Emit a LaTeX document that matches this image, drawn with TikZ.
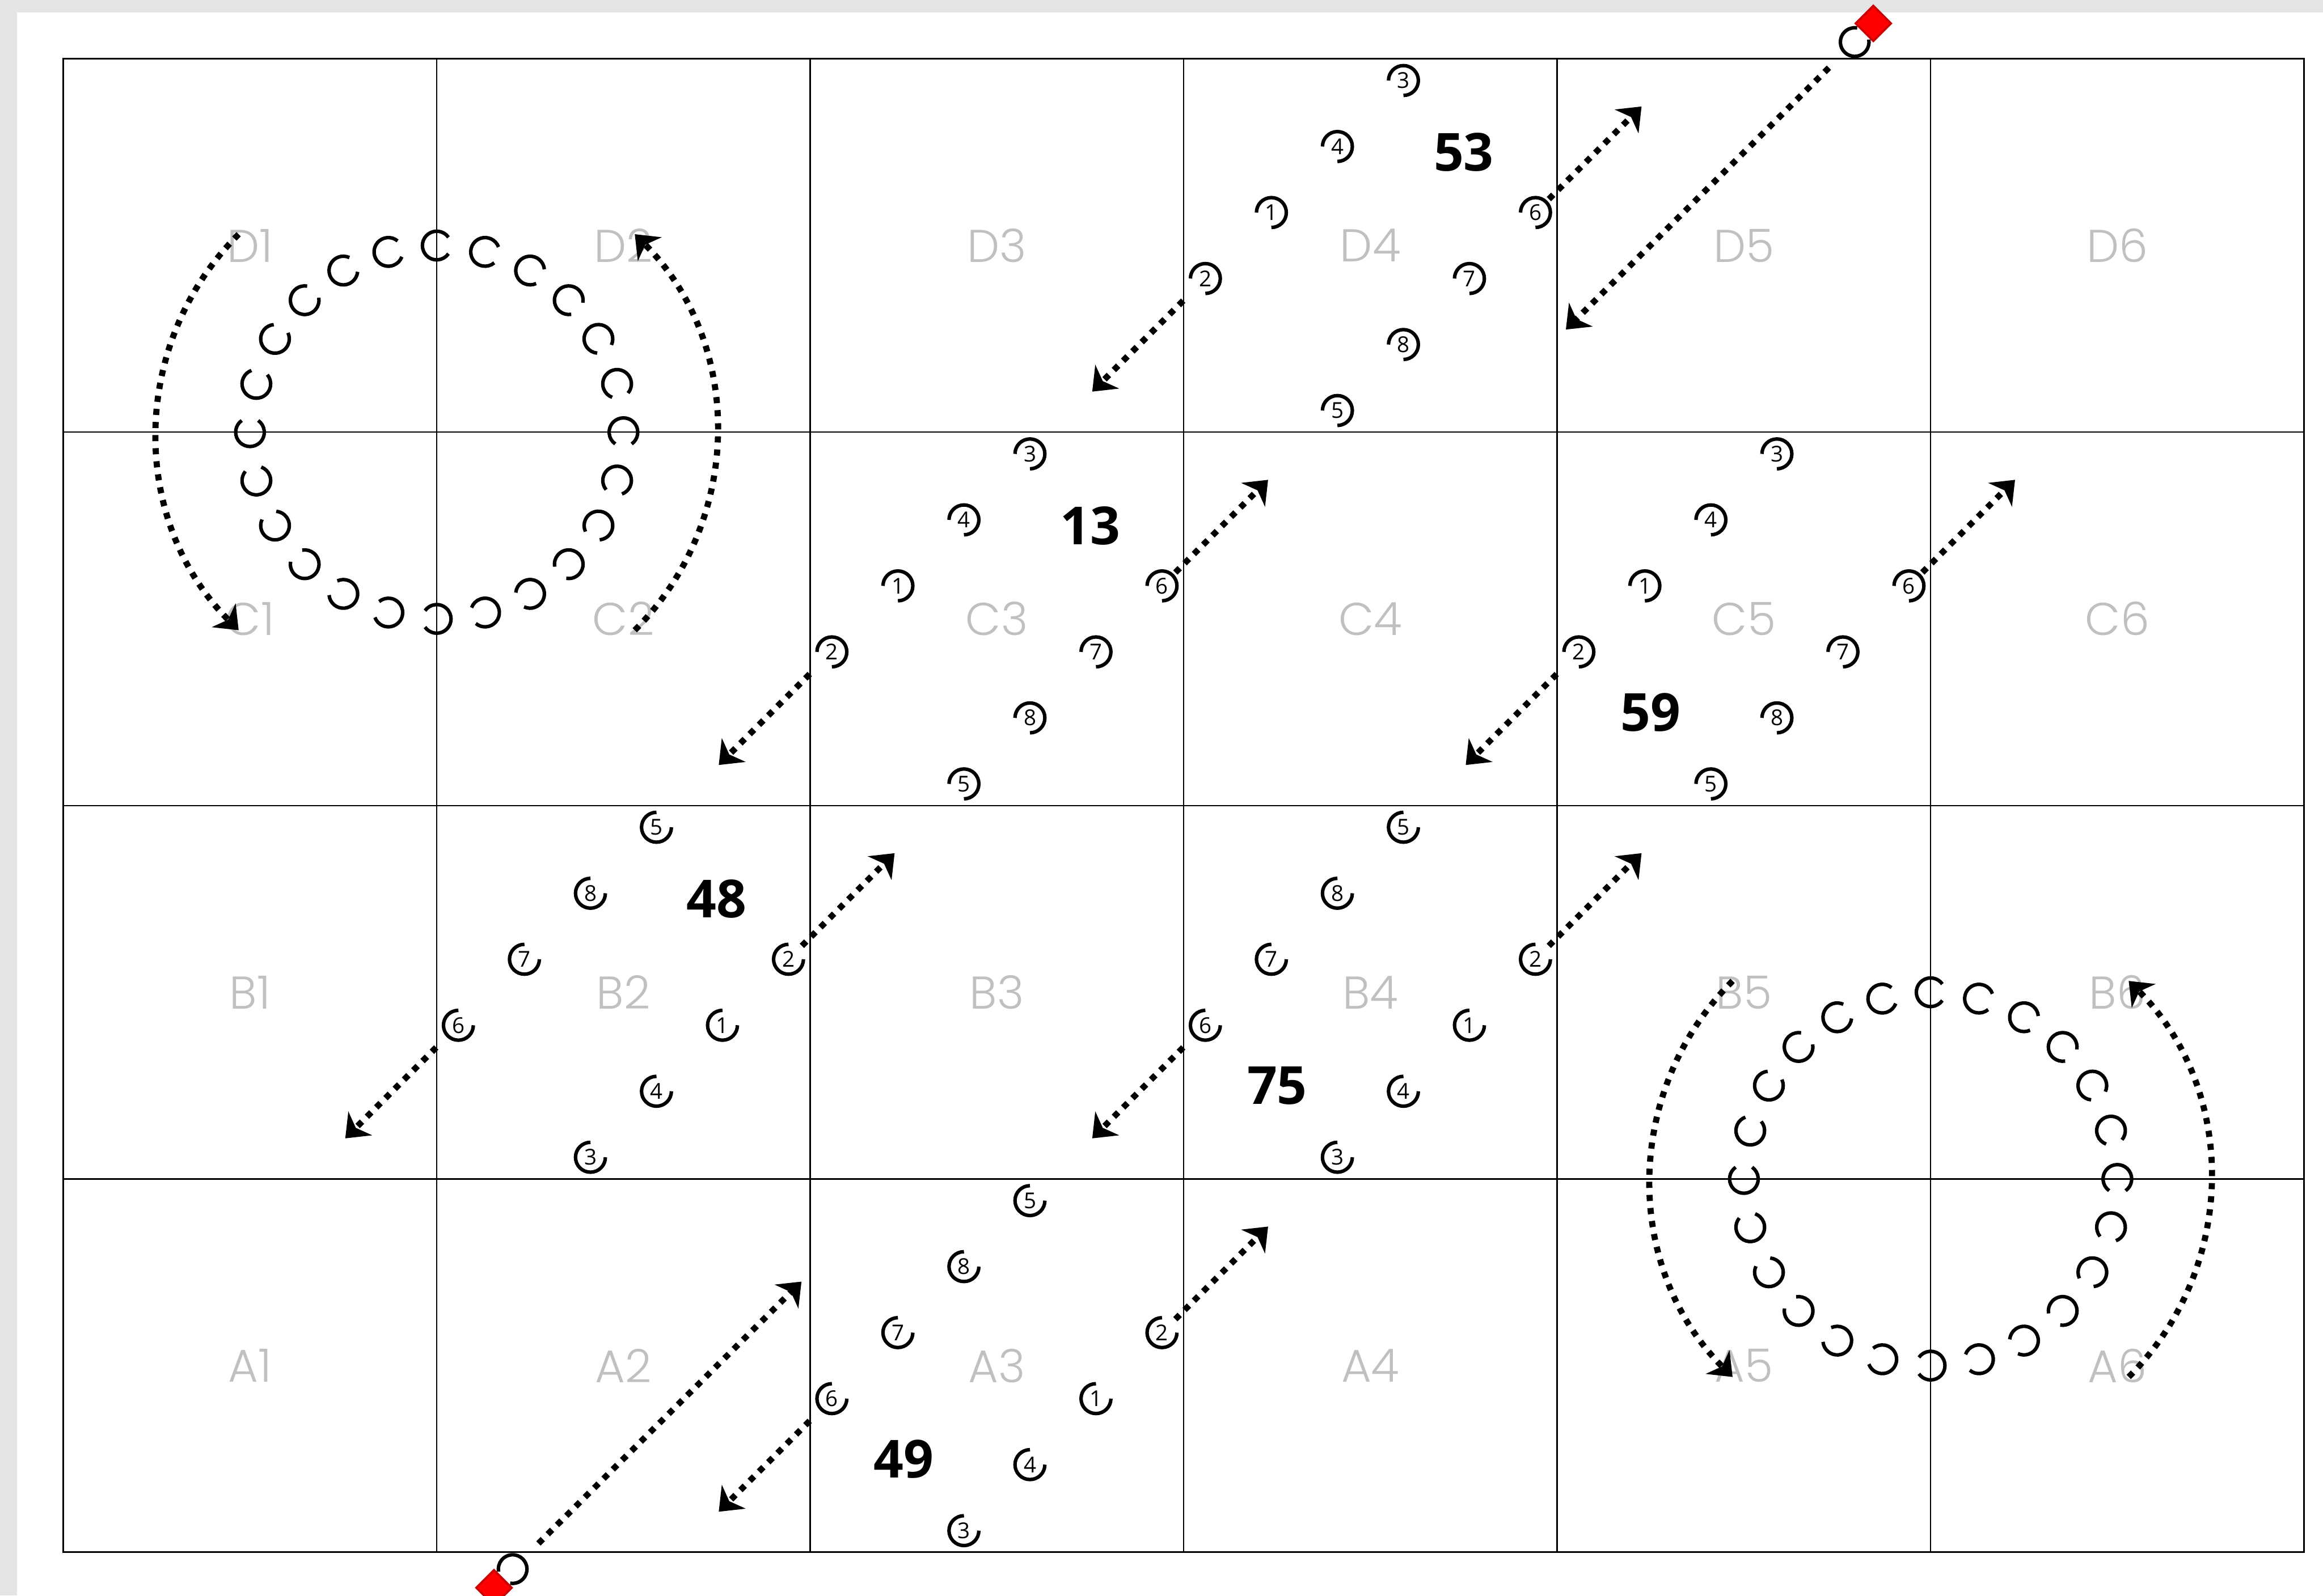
\documentclass[tikz,border=0pt]{standalone}
\usepackage{fontspec}
\setmainfont{Open Sans}
\newfontfamily\cellfont{Poppins Light}
\usetikzlibrary{arrows.meta}

\definecolor{cellgray}{RGB}{192,192,192}
\definecolor{pagegray}{RGB}{229,229,229}
\definecolor{ballred}{RGB}{255,0,0}
\definecolor{balledge}{RGB}{204,0,0}

% player: name, position, number, direction of the opening
\newcommand\plr[4]{%
  \node[plr] (#1) at (#2) {#3};
  \draw[glyph] (#1.center) ++(#4+45:0.12) arc[start angle=#4+45, delta angle=270, radius=0.12];}

\begin{document}
\begin{tikzpicture}[
  cell/.style={font=\cellfont\fontsize{10.5}{12}\selectfont, text=cellgray},
  plr/.style={circle, inner sep=0pt, minimum size=0.29cm, font=\fontsize{5}{6}\selectfont},
  glyph/.style={line width=0.8pt},
  big/.style={font=\bfseries\fontsize{12}{14}\selectfont},
  route/.style={line width=1.4pt, dash pattern=on 1.4pt off 1.6pt, -{Stealth[length=4.8pt, width=7.6pt, inset=1.4pt]}},
  ball/.style={draw=balledge, fill=ballred, line width=0.5pt, minimum size=0.2cm, inner sep=0pt, rotate=45}]

\fill[pagegray] (-0.508,-0.348) rectangle (18.152,12.473);
\fill[white] (-0.371,-0.348) rectangle (18.152,12.371);
\useasboundingbox (-0.508,-0.348) rectangle (18.152,12.473);

\draw[line width=0.3pt] (0,0) grid[step=3] (18,12);
\draw[line width=0.4pt] (0,0) rectangle (18,12);

\foreach \r [count=\i] in {A,B,C,D}
  \foreach \c in {1,...,6}
    \node[cell] (\r\c) at (3*\c-1.5,3*\i-1.5) {\r\c};

% circles
\foreach \cx/\cy in {3/9, 15/3} {
  \foreach \a in {0,15,...,345}
    \draw[glyph] (\cx,\cy) ++(\a:1.5) ++(\a-55:0.115) arc[start angle=\a-55, delta angle=290, radius=0.115];
  \draw[route] (\cx,\cy) ++(135:2.25) arc[start angle=135, end angle=225, radius=2.25];
  \draw[route] (\cx,\cy) ++(-45:2.25) arc[start angle=-45, end angle=45, radius=2.25];
}

% lineouts
\foreach \id/\cx/\cy/\lx in {53/10.5/10.5/1.06, 13/7.5/7.5/1.06, 59/13.5/7.5/-1.06} {
  \begin{scope}[shift={(\cx,\cy)}, rotate=45]
    \foreach \n [count=\k] in {2,1,4,3} \plr{p\id-\n}{0.75*\k-1.875,0.75}{\n}{180};
    \foreach \n [count=\k] in {5,8,7,6} \plr{p\id-\n}{0.75*\k-1.875,-0.75}{\n}{180};
    \node[big] (n\id) at (\lx,0) {\id};
    \coordinate (p\id-ne) at (2.33,-0.75);
    \coordinate (p\id-sw) at (-2.41,0.75);
    \draw[route] (p\id-6) -- (p\id-ne);
    \draw[route, shorten <=1mm] (p\id-2) -- (p\id-sw);
  \end{scope}
}
\foreach \id/\cx/\cy/\lx in {48/4.5/4.5/1.06, 75/10.5/4.5/-1.06, 49/7.5/1.5/-1.06} {
  \begin{scope}[shift={(\cx,\cy)}, rotate=45]
    \foreach \n [count=\k] in {6,7,8,5} \plr{p\id-\n}{0.75*\k-1.875,0.75}{\n}{0};
    \foreach \n [count=\k] in {3,4,1,2} \plr{p\id-\n}{0.75*\k-1.875,-0.75}{\n}{0};
    \node[big] (n\id) at (\lx,0) {\id};
    \coordinate (p\id-ne) at (2.33,-0.75);
    \coordinate (p\id-sw) at (-2.41,0.75);
    \draw[route] (p\id-2) -- (p\id-ne);
    \draw[route, shorten <=1mm] (p\id-6) -- (p\id-sw);
  \end{scope}
}

% ball carriers
\node[plr] (bc1) at (14.39,12.135) {};
\draw[glyph] (bc1.center) ++(80:0.115) arc[start angle=80, delta angle=290, radius=0.115];
\node[ball] (bd1) at (14.54,12.285) {};
\coordinate (bt1) at (12.07,9.825);
\draw[route, shorten <=1.4mm] (bc1) -- (bt1);

\node[plr] (bc2) at (3.61,-0.135) {};
\draw[glyph] (bc2.center) ++(260:0.115) arc[start angle=260, delta angle=290, radius=0.115];
\node[ball] (bd2) at (3.46,-0.285) {};
\coordinate (bt2) at (5.93,2.175);
\draw[route, shorten <=1.4mm] (bc2) -- (bt2);
\end{tikzpicture}
\end{document}
